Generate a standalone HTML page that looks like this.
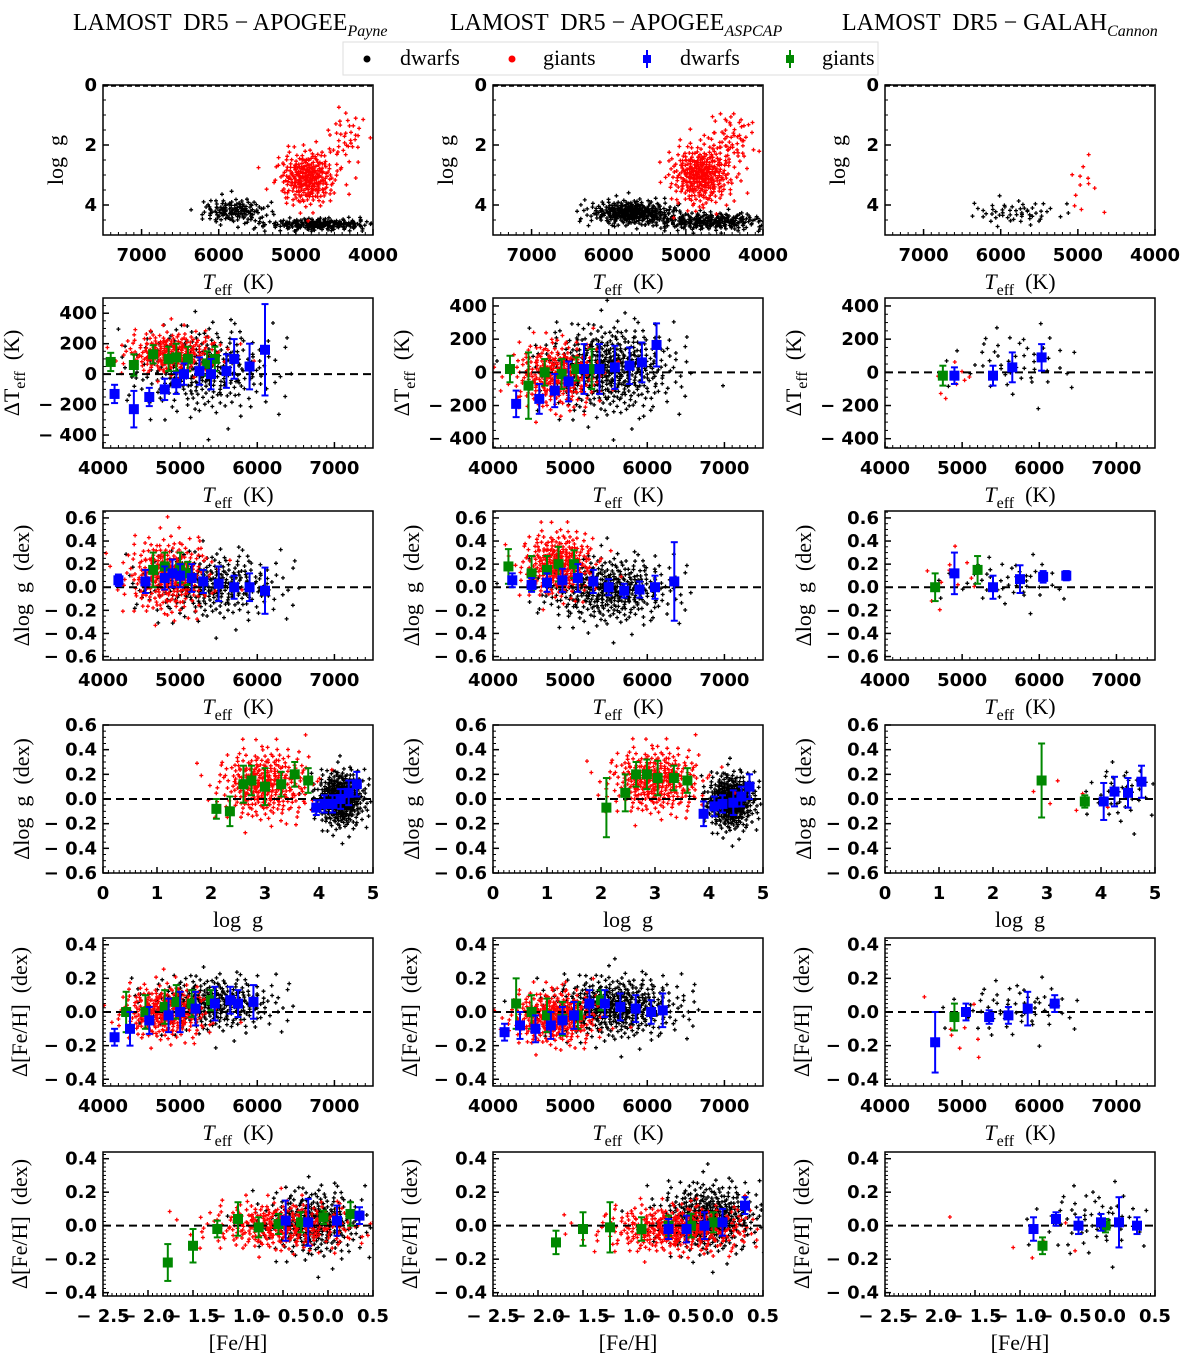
<!DOCTYPE html>
<html><head><meta charset="utf-8"><style>
body{margin:0;background:#fff;}
svg{display:block;}
text{white-space:pre;}
.tk{font-family:"DejaVu Sans","Liberation Sans",sans-serif;font-weight:bold;font-size:18px;fill:#000;}
.lb{font-family:"Liberation Serif","DejaVu Serif",serif;font-size:22px;fill:#000;}
.tt{font-family:"Liberation Serif","DejaVu Serif",serif;font-size:24px;fill:#000;}
</style></head><body>
<svg id="fig" width="1200" height="1367" viewBox="0 0 1200 1367" xmlns="http://www.w3.org/2000/svg">
<g>
<text class="tt" x="73" y="30">LAMOST  DR5 − APOGEE<tspan font-style="italic" font-size="16" dy="6">Payne</tspan></text>
<text class="tt" x="450" y="30">LAMOST  DR5 − APOGEE<tspan font-style="italic" font-size="16" dy="6">ASPCAP</tspan></text>
<text class="tt" x="842" y="30">LAMOST  DR5 − GALAH<tspan font-style="italic" font-size="16" dy="6">Cannon</tspan></text>
</g>
<g>
<rect x="343" y="42" width="535" height="33" fill="#fff" stroke="#ddd"/>
<circle cx="367" cy="59" r="3.5" fill="#000"/>
<text class="lb" x="400" y="65" font-size="20">dwarfs</text>
<circle cx="512" cy="59" r="3.5" fill="#f00"/>
<text class="lb" x="543" y="65" font-size="20">giants</text>
<g><line x1="647" y1="50" x2="647" y2="68" stroke="#00f" stroke-width="2"/><rect x="643" y="55" width="8" height="8" fill="#00f"/></g>
<text class="lb" x="680" y="65" font-size="20">dwarfs</text>
<g><line x1="790" y1="50" x2="790" y2="68" stroke="#080" stroke-width="2"/><rect x="786" y="55" width="8" height="8" fill="#080"/></g>
<text class="lb" x="822" y="65" font-size="20">giants</text>
</g>
</svg>
<script>
// ---- binned data: [x, y, err] per panel (row r, col c) ----
const blue_r2c1=[[4150,-130,60],[4400,-230,120],[4600,-150,60],[4800,-100,70],[4950,-60,70],[5050,0,70],[5250,20,90],[5400,0,100],[5600,20,110],[5700,100,130],[5900,50,150],[6100,160,300]];
const green_r2c1=[[4100,80,60],[4400,60,70],[4650,130,60],[4850,100,80],[4950,110,90],[5100,100,80],[5350,70,80],[5450,100,80]];
const blue_r2c2=[[4300,-190,80],[4600,-160,90],[4800,-110,100],[4980,-55,120],[5180,20,150],[5380,20,150],[5580,30,130],[5770,40,110],[5930,60,120],[6120,165,130]];
const green_r2c2=[[4220,20,80],[4460,-80,200],[4670,0,80],[4890,-10,90],[5080,20,70],[5280,20,120]];
const blue_r2c3=[[4900,-20,50],[5400,-20,60],[5650,30,90],[6030,90,80]];
const green_r2c3=[[4750,-20,60]];
const blue_r3c1=[[4200,0.06,0.05],[4550,0.05,0.1],[4800,0.08,0.1],[4900,0.12,0.12],[5000,0.10,0.1],[5150,0.08,0.12],[5300,0.05,0.1],[5500,0.03,0.15],[5700,0.0,0.1],[5900,0.0,0.12],[6100,-0.03,0.2]];
const green_r3c1=[[4650,0.15,0.15],[4800,0.18,0.12],[5000,0.17,0.13],[5100,0.12,0.1],[5300,0.05,0.1]];
const blue_r3c2=[[4250,0.06,0.06],[4500,0.02,0.06],[4700,0.04,0.08],[4900,0.06,0.1],[5100,0.08,0.12],[5300,0.05,0.1],[5500,0.0,0.07],[5700,-0.03,0.06],[5900,-0.02,0.07],[6100,0.0,0.1],[6350,0.05,0.34]];
const green_r3c2=[[4200,0.18,0.15],[4500,0.12,0.15],[4700,0.15,0.12],[4850,0.2,0.15],[5050,0.2,0.12]];
const blue_r3c3=[[4900,0.12,0.18],[5400,0.0,0.1],[5750,0.07,0.12],[6050,0.09,0.05],[6350,0.10,0.04]];
const green_r3c3=[[4650,0.0,0.12],[5200,0.15,0.12]];
const green_r4c1=[[2.1,-0.08,0.08],[2.35,-0.1,0.12],[2.6,0.12,0.15],[2.75,0.15,0.12],[3.0,0.1,0.15],[3.3,0.12,0.1],[3.55,0.2,0.1],[3.8,0.15,0.1]];
const blue_r4c1=[[3.95,-0.07,0.06],[4.1,-0.04,0.07],[4.25,-0.04,0.07],[4.4,0.0,0.08],[4.55,0.05,0.1],[4.7,0.12,0.1]];
const green_r4c2=[[2.1,-0.07,0.24],[2.45,0.05,0.15],[2.65,0.2,0.1],[2.85,0.2,0.12],[3.05,0.17,0.14],[3.35,0.17,0.1],[3.6,0.15,0.1]];
const blue_r4c2=[[3.9,-0.12,0.1],[4.1,-0.06,0.08],[4.25,-0.04,0.07],[4.45,-0.03,0.1],[4.6,0.02,0.08],[4.75,0.1,0.1]];
const green_r4c3=[[2.9,0.15,0.3],[3.7,-0.02,0.05]];
const blue_r4c3=[[4.05,-0.02,0.15],[4.25,0.06,0.12],[4.5,0.05,0.12],[4.75,0.14,0.13]];
const blue_r5c1=[[4150,-0.15,0.05],[4350,-0.1,0.1],[4600,-0.05,0.08],[4850,-0.02,0.1],[5000,0.0,0.12],[5200,0.02,0.1],[5450,0.05,0.1],[5650,0.07,0.08],[5750,0.05,0.08],[5950,0.06,0.1]];
const green_r5c1=[[4300,0.0,0.12],[4550,0.0,0.1],[4800,0.03,0.1],[4950,0.06,0.1],[5150,0.05,0.08],[5400,0.07,0.06]];
const blue_r5c2=[[4150,-0.12,0.05],[4350,-0.08,0.08],[4550,-0.1,0.08],[4750,-0.08,0.08],[4900,-0.05,0.08],[5050,-0.02,0.08],[5250,0.05,0.08],[5450,0.05,0.08],[5650,0.03,0.08],[5850,0.02,0.08],[6050,0.0,0.07],[6200,0.01,0.1]];
const green_r5c2=[[4300,0.05,0.15],[4500,0.0,0.1],[4700,-0.02,0.1],[4900,-0.04,0.1],[5100,-0.02,0.08],[5400,0.07,0.06]];
const blue_r5c3=[[4650,-0.18,0.18],[5050,0.0,0.05],[5350,-0.03,0.04],[5600,-0.02,0.05],[5850,0.02,0.1],[6200,0.05,0.05]];
const green_r5c3=[[4900,-0.03,0.08]];
const green_r6c1=[[-1.78,-0.22,0.11],[-1.5,-0.12,0.1],[-1.23,-0.02,0.05],[-1.0,0.04,0.1],[-0.77,-0.01,0.06],[-0.55,0.01,0.06],[-0.3,0.02,0.06],[-0.05,0.05,0.04],[0.25,0.07,0.07]];
const blue_r6c1=[[-0.47,0.03,0.12],[-0.22,0.02,0.14],[0.1,0.03,0.09],[0.35,0.06,0.05]];
const green_r6c2=[[-1.8,-0.1,0.07],[-1.5,-0.02,0.1],[-1.2,-0.01,0.15],[-0.85,-0.02,0.07],[-0.55,0.0,0.06],[-0.3,0.0,0.07],[-0.05,0.02,0.06]];
const blue_r6c2=[[-0.55,-0.02,0.06],[-0.35,-0.02,0.08],[-0.15,0.0,0.08],[0.05,0.02,0.08],[0.3,0.12,0.05]];
const green_r6c3=[[-0.75,-0.12,0.05],[-0.05,0.0,0.04]];
const blue_r6c3=[[-0.85,-0.02,0.07],[-0.6,0.04,0.04],[-0.35,0.0,0.05],[-0.1,0.02,0.05],[0.1,0.02,0.15],[0.3,0.0,0.05]];
// ---- scatter cloud descriptors: [cx, cy, sx, sy, count, color] ----
const clouds_r1c1=[[5800,4.2,220,0.2,140,'k'],[4700,4.65,350,0.1,220,'k'],[4850,3.1,180,0.45,300,'r'],[4350,1.8,130,0.5,40,'r']];
const clouds_r1c2=[[5700,4.25,280,0.2,320,'k'],[4700,4.55,400,0.15,260,'k'],[4800,3.0,200,0.5,350,'r'],[4400,1.8,150,0.5,60,'r']];
const clouds_r1c3=[[5800,4.25,300,0.2,55,'k'],[4950,3.3,120,0.5,12,'r']];
const clouds_r2c1=[[5300,30,450,140,320,'k'],[4900,140,300,70,260,'r']];
const clouds_r2c2=[[5500,20,420,130,520,'k'],[4800,-20,280,100,320,'r']];
const clouds_r2c3=[[5700,60,400,100,50,'k'],[4900,-40,150,60,10,'r']];
const clouds_r3c1=[[5400,0.02,450,0.14,320,'k'],[4850,0.1,270,0.16,320,'r']];
const clouds_r3c2=[[5500,-0.02,420,0.14,420,'k'],[4850,0.2,230,0.14,320,'r']];
const clouds_r3c3=[[5600,0.05,400,0.1,50,'k'],[4900,0.1,250,0.15,12,'r']];
const clouds_r4c1=[[4.4,0.0,0.22,0.11,420,'k'],[3.0,0.12,0.42,0.14,350,'r']];
const clouds_r4c2=[[4.4,-0.02,0.22,0.11,420,'k'],[3.0,0.15,0.42,0.13,350,'r']];
const clouds_r4c3=[[4.4,0.05,0.3,0.12,40,'k'],[3.3,0.0,0.5,0.1,6,'r']];
const clouds_r5c1=[[5400,0.05,420,0.08,350,'k'],[4800,0.0,280,0.08,320,'r']];
const clouds_r5c2=[[5600,0.03,420,0.09,460,'k'],[4800,-0.03,280,0.08,360,'r']];
const clouds_r5c3=[[5700,0.02,420,0.08,60,'k'],[5000,-0.1,200,0.1,8,'r']];
const clouds_r6c1=[[-0.15,0.02,0.28,0.1,320,'k'],[-0.5,0.0,0.42,0.07,360,'r']];
const clouds_r6c2=[[-0.1,0.05,0.28,0.1,420,'k'],[-0.45,-0.02,0.42,0.07,420,'r']];
const clouds_r6c3=[[-0.2,0.03,0.32,0.1,60,'k'],[-0.8,-0.1,0.4,0.08,6,'r']];

const NS='http://www.w3.org/2000/svg';
const fig=document.getElementById('fig');
function mk(tag,attrs,parent){const e=document.createElementNS(NS,tag);for(const k in attrs)e.setAttribute(k,attrs[k]);parent.appendChild(e);return e;}
const colL=[103,493,885], W=270;
const rowT=[85,298,511,725,938,1152], rowH=[150,150,149,148,148,144];
const rows=[
 {xd:[7500,4000],xt:[7000,6000,5000,4000],xl:'teff',yd:[0,5],yinv:true,yt:[0,2,4],yl:'log  g',ylo:40,zero:false},
 {xd:[4000,7500],xt:[4000,5000,6000,7000],xl:'teff',yd:[[-485,500],[-456,448],[-456,448]],yt:[-400,-200,0,200,400],yl:'dteff',ylo:84,zero:true},
 {xd:[4000,7500],xt:[4000,5000,6000,7000],xl:'teff',yd:[-0.63,0.66],yt:[-0.6,-0.4,-0.2,0,0.2,0.4,0.6],yl:'Δlog  g  (dex)',ylo:74,zero:true},
 {xd:[0,5],xt:[0,1,2,3,4,5],xl:'log  g',yd:[-0.6,0.6],yt:[-0.6,-0.4,-0.2,0,0.2,0.4,0.6],yl:'Δlog  g  (dex)',ylo:74,zero:true},
 {xd:[4000,7500],xt:[4000,5000,6000,7000],xl:'teff',yd:[-0.44,0.44],yt:[-0.4,-0.2,0,0.2,0.4],yl:'Δ[Fe/H]  (dex)',ylo:76,zero:true},
 {xd:[-2.5,0.5],xt:[-2.5,-2,-1.5,-1,-0.5,0,0.5],xl:'[Fe/H]',yd:[-0.42,0.44],yt:[-0.4,-0.2,0,0.2,0.4],yl:'Δ[Fe/H]  (dex)',ylo:76,zero:true}
];
const DATA={};
[[blue_r2c1,green_r2c1],[blue_r2c2,green_r2c2],[blue_r2c3,green_r2c3]].forEach((p,i)=>DATA['2'+(i+1)]=p);
[[blue_r3c1,green_r3c1],[blue_r3c2,green_r3c2],[blue_r3c3,green_r3c3]].forEach((p,i)=>DATA['3'+(i+1)]=p);
[[blue_r4c1,green_r4c1],[blue_r4c2,green_r4c2],[blue_r4c3,green_r4c3]].forEach((p,i)=>DATA['4'+(i+1)]=p);
[[blue_r5c1,green_r5c1],[blue_r5c2,green_r5c2],[blue_r5c3,green_r5c3]].forEach((p,i)=>DATA['5'+(i+1)]=p);
[[blue_r6c1,green_r6c1],[blue_r6c2,green_r6c2],[blue_r6c3,green_r6c3]].forEach((p,i)=>DATA['6'+(i+1)]=p);
const CLOUDS={'11':clouds_r1c1,'12':clouds_r1c2,'13':clouds_r1c3,'21':clouds_r2c1,'22':clouds_r2c2,'23':clouds_r2c3,'31':clouds_r3c1,'32':clouds_r3c2,'33':clouds_r3c3,'41':clouds_r4c1,'42':clouds_r4c2,'43':clouds_r4c3,'51':clouds_r5c1,'52':clouds_r5c2,'53':clouds_r5c3,'61':clouds_r6c1,'62':clouds_r6c2,'63':clouds_r6c3};
// deterministic quasi-sequence for cloud spread (Halton)
function halton(i,b){let f=1,r=0;while(i>0){f/=b;r+=f*(i%b);i=Math.floor(i/b);}return r;}
function lab(v,dec){const a=Math.abs(v).toFixed(dec);return (v<-1e-9?'− ':'')+a;}

rows.forEach((R,ri)=>{
 for(let ci=0;ci<3;ci++){
  const L=colL[ci],T=rowT[ri],H=rowH[ri];
  const yd=Array.isArray(R.yd[0])?R.yd[ci]:R.yd;
  const xs=v=>L+(v-R.xd[0])/(R.xd[1]-R.xd[0])*W;
  const ys=R.yinv?(v=>T+(v-yd[0])/(yd[1]-yd[0])*H):(v=>T+H-(v-yd[0])/(yd[1]-yd[0])*H);
  const g=mk('g',{},fig);
  
  
  const clip=mk('clipPath',{id:'cp'+ri+ci},g);mk('rect',{x:L,y:T,width:W,height:H},clip);
  const pg=mk('g',{'clip-path':'url(#cp'+ri+ci+')'},g);
  const key=''+(ri+1)+(ci+1);
  let idx=1;
  CLOUDS[key].forEach(c=>{
   const col=c[5]==='k'?'#000':'#f00';
   const sg=mk('g',{fill:'none',stroke:col,'stroke-width':1.3},pg);
   
   
   let d='';
   for(let k=0;k<c[4];k++){
    const u1=halton(idx,2)*0.999+0.0005,u2=halton(idx,3);idx++;
    const rr=Math.sqrt(-2*Math.log(u1));
    const px=xs(c[0]+c[2]*rr*Math.cos(2*Math.PI*u2)),py=ys(c[1]+c[3]*rr*Math.sin(2*Math.PI*u2));
    d+=`M${(px-2).toFixed(1)} ${py.toFixed(1)}h4M${px.toFixed(1)} ${(py-2).toFixed(1)}v4`;
   }
   mk('path',{d:d},sg);
  });
  if(R.zero){const z=mk('line',{x1:L,x2:L+W,y1:ys(0),y2:ys(0),stroke:'#000','stroke-width':2,'stroke-dasharray':'8,5'},pg);
   }
  else{mk('line',{x1:L,x2:L+W,y1:T+1,y2:T+1,stroke:'#000','stroke-width':1.5,'stroke-dasharray':'5,3'},pg);}
  if(DATA[key]){
   [[DATA[key][1],'#080','giants'],[DATA[key][0],'#00f','dwarfs']].forEach(([arr,col,nm])=>{
    const bg=mk('g',{},pg);
    
    
    arr.forEach(p=>{
     const px=xs(p[0]),py=ys(p[1]),e1=ys(p[1]+p[2]),e2=ys(p[1]-p[2]);
     mk('line',{x1:px,x2:px,y1:e1,y2:e2,stroke:col,'stroke-width':2},bg);
     mk('line',{x1:px-3.5,x2:px+3.5,y1:e1,y2:e1,stroke:col,'stroke-width':2},bg);
     mk('line',{x1:px-3.5,x2:px+3.5,y1:e2,y2:e2,stroke:col,'stroke-width':2},bg);
     const m=mk('rect',{x:px-5,y:py-5,width:10,height:10,fill:col},bg);
     
     
    });
   });
  }
  mk('rect',{x:L,y:T,width:W,height:H,fill:'none',stroke:'#000','stroke-width':1.5},g);
  const xdec=(ri===5)?1:0;
  const minorX=(ri===0||ri===1||ri===2||ri===4)?100:(ri===3?0.1:0.05);
  const xlo=Math.min(...R.xd),xhi=Math.max(...R.xd);
  for(let v=xlo;v<=xhi+1e-9;v+=minorX){mk('line',{x1:xs(v),x2:xs(v),y1:T+H,y2:T+H-3,stroke:'#000','stroke-width':1},g);}
  R.xt.forEach(v=>{
   mk('line',{x1:xs(v),x2:xs(v),y1:T+H,y2:T+H-6,stroke:'#000','stroke-width':1.5},g);
   const t=mk('text',{x:xs(v),y:T+H+26,'text-anchor':'middle',class:'tk'},g);
   t.textContent=lab(v,xdec);
   
   
  });
  const ydec=(ri===0||ri===1)?0:1;
  const ylo=Math.min(...yd),yhi=Math.max(...yd);
  const minorY=ri===0?0.5:(ri===1?50:(ri===2||ri===3?0.05:0.025));
  for(let v=Math.ceil(ylo/minorY)*minorY;v<=yhi;v+=minorY){mk('line',{x1:L,x2:L+3,y1:ys(v),y2:ys(v),stroke:'#000','stroke-width':1},g);}
  R.yt.forEach(v=>{
   mk('line',{x1:L,x2:L+6,y1:ys(v),y2:ys(v),stroke:'#000','stroke-width':1.5},g);
   const t=mk('text',{x:L-6,y:ys(v)+6,'text-anchor':'end',class:'tk'},g);
   t.textContent=lab(v,ydec);
   
   
  });
  const xt=mk('text',{x:L+W/2,y:T+H+54,'text-anchor':'middle',class:'lb'},g);
  
  
  if(R.xl==='teff'){xt.innerHTML='<tspan font-style="italic">T</tspan><tspan font-size="16" dy="6">eff</tspan><tspan dy="-6">  (K)</tspan>';}
  else xt.textContent=R.xl;
  const yx=L-R.ylo, yc=T+H/2;
  const yt=mk('text',{x:yx,y:yc,'text-anchor':'middle',class:'lb',transform:`rotate(-90 ${yx} ${yc})`},g);
  
  
  if(R.yl==='dteff'){yt.innerHTML='ΔT<tspan font-size="16" dy="6">eff</tspan><tspan dy="-6">  (K)</tspan>';}
  else yt.textContent=R.yl;
 }
});
</script>
</body></html>
